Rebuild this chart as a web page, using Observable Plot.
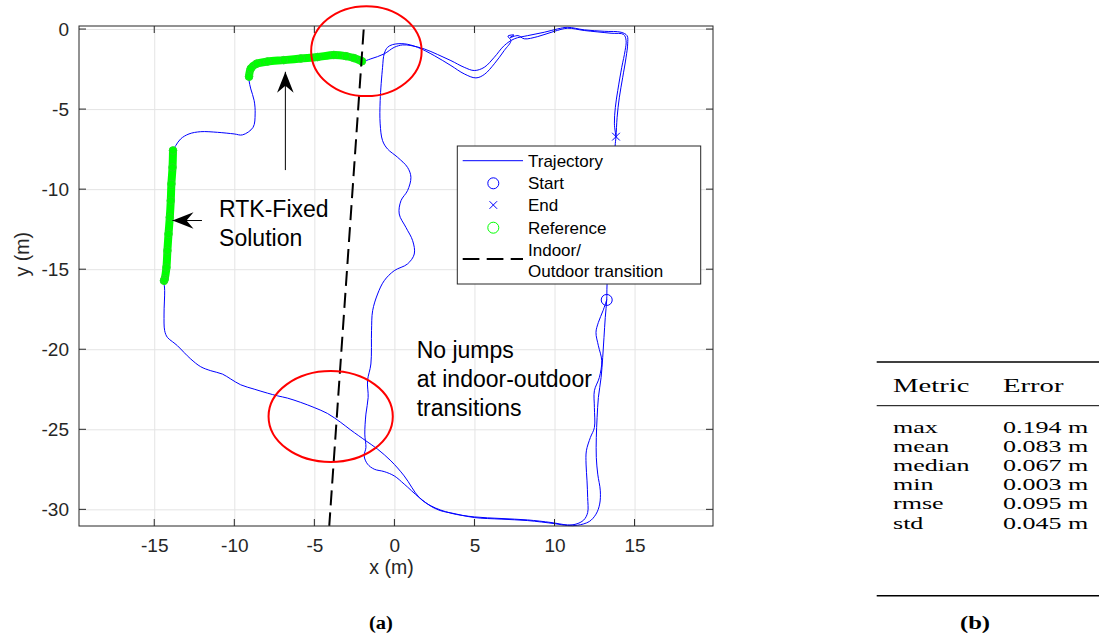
<!DOCTYPE html>
<html><head><meta charset="utf-8">
<script src="https://cdn.jsdelivr.net/npm/d3@7"></script>
<script src="https://cdn.jsdelivr.net/npm/@observablehq/plot@0.6"></script>
<style>
html,body{margin:0;padding:0;background:#fff;}
#wrap{position:relative;width:1099px;height:637px;overflow:hidden;background:#fff;}
#chart{position:absolute;left:0;top:0;width:760px;}
#over{position:absolute;left:0;top:0;}
</style></head><body>
<div id="wrap"><div id="chart"></div><svg id="over" width="1099" height="637"></svg></div>
<script>
// ---------- axes ----------
const xTicks = [-15, -10, -5, 0, 5, 10, 15];
const yTicks = [0, -5, -10, -15, -20, -25, -30];
const xDomain = [-19.7, 19.9];
const yDomain = [-31.04, 0.19];

// ---------- trajectory (x, y in m) ----------
const trajX = [
  13.23, 13.0, 12.71, 12.56, 12.71, 12.92, 12.77, 12.46, 12.46, 12.46, 12.21, 11.96, 11.94, 12.0, 12.04, 12.04, 11.79, 11.31,
  10.79, 9.75, 8.29, 6.63, 4.96, 3.5, 2.25, 1.52,
  0.58, -0.25, -1.08, -1.81, -2.75, -3.38, -4.21, -5.04, -5.88, -6.71, -7.33, -7.96, -8.79, -9.63, -10.25, -10.77, -11.5, -12.13, -12.75, -13.17, -13.58, -13.89, -14.21, -14.38, -14.42, -14.38, -14.42,
  -14.31, -14.19, -14.06, -13.94, -13.86,
  -13.69, -13.38, -12.86, -12.13, -11.08, -10.04, -9.52, -8.86, -8.73, -8.79, -9.0, -9.11, -9.11,
  -9.0, -8.63, -7.96, -6.94, -5.88, -4.83, -3.81, -3.06, -2.56, -2.06,
  -1.5, -0.67, -0.04, 0.48, 1.0, 1.83, 2.67, 3.5, 4.33, 4.96, 5.58, 6.21, 6.83, 7.46, 8.29, 9.33, 10.17, 10.79, 11.83, 13.08, 14.13, 14.5, 14.54, 14.44, 14.23, 14.02, 13.88, 13.81, 13.75, 13.5, 13.25, 13.23,
  13.14, 13.06, 12.98, 12.88, 12.71, 12.63, 12.58, 12.58, 12.67, 12.83, 12.79, 12.56, 12.14, 11.42,
  10.79, 9.96, 8.29, 6.63, 4.96, 3.5, 2.88, 2.31, 1.52,
  0.58, -0.04, -0.67, -1.29, -1.71, -1.92, -1.81, -1.88, -1.81, -1.67, -1.71, -1.5, -1.46, -1.39, -1.08, -0.67, -0.04, 0.79, 1.21, 1.11, 0.69, 0.27, 0.38, 0.79, 1.0, 0.79, 0.17, -0.46, -0.77, -0.92, -0.92, -0.77, -0.67, -0.46, -0.14, 0.58, 1.42, 2.46, 3.5, 4.33, 5.06, 5.58, 6.21, 6.83, 7.25, 7.06, 7.44, 7.19, 7.69, 8.08, 8.92, 9.96, 10.79, 11.83, 13.5, 14.29, 14.44, 14.38, 14.17, 13.92, 13.77, 13.71, 13.81
];
const trajY = [
  -16.89, -17.56, -18.29, -18.92, -19.75, -20.69, -21.73, -22.56, -23.61, -24.86, -25.48, -26.31, -27.14, -28.19, -29.23, -30.17, -30.64, -30.89,
  -30.94, -30.79, -30.63, -30.54, -30.44, -30.21, -29.75, -29.23,
  -27.88, -26.94, -26.21, -25.69, -25.02, -24.54, -23.98, -23.61, -23.29, -23.02, -22.88, -22.71, -22.46, -22.19, -21.83, -21.52, -21.31, -21.06, -20.58, -20.17, -19.75, -19.5, -19.23, -18.81, -17.77, -16.31, -15.69,
  -13.81, -11.94, -10.06, -8.5, -7.56,
  -7.25, -6.83, -6.52, -6.38, -6.42, -6.52, -6.58, -6.11, -5.27, -4.44, -3.71, -3.19, -2.94,
  -2.44, -2.13, -2.0, -1.91, -1.81, -1.72, -1.59, -1.66, -1.78, -1.98,
  -1.83, -1.52, -1.11, -0.96, -1.0, -1.21, -1.56, -1.94, -2.36, -2.56, -2.36, -1.73, -1.0, -0.58, -0.38, -0.17, 0.04, 0.14, -0.02, -0.11, -0.17, -0.38, -0.89, -1.73, -2.98, -4.23, -5.48, -6.69, -7.31, -11.63, -15.94, -16.89,
  -17.98, -19.23, -20.48, -21.73, -22.98, -24.23, -25.48, -26.73, -27.77, -28.81, -29.64, -30.27, -30.73, -30.96,
  -30.98, -30.86, -30.67, -30.58, -30.48, -30.19, -30.06, -29.81, -29.23,
  -28.39, -27.88, -27.61, -27.46, -27.14, -26.63, -26.11, -25.27, -24.02, -22.98, -21.94, -20.89, -18.81, -17.56, -16.52, -15.69, -15.06, -14.64, -14.02, -13.19, -12.36, -11.52, -10.69, -10.06, -9.23, -8.61, -7.98, -7.46, -6.94, -5.89, -4.44, -2.36, -1.52, -1.11, -0.94, -0.89, -1.11, -1.63, -2.25, -2.77, -3.02, -2.81, -2.14, -1.31, -0.69, -0.41, -0.34, -0.5, -0.38, -0.58, -0.44, -0.11, 0.08, -0.06, -0.23, -0.31, -0.69, -1.31, -2.36, -3.81, -4.86, -5.89, -6.69
];
const startX = [13.23], startY = [-16.89];
const endX = [13.81], endY = [-6.69];

// ---------- RTK-fixed reference ----------
const refWestX = [-13.86, -13.89, -13.96, -14.0, -14.06, -14.14, -14.21, -14.27, -14.38, -14.42];
const refWestY = [-7.56, -8.61, -9.64, -10.69, -11.73, -12.77, -13.81, -14.86, -15.58, -15.69];
const refTopX = [-9.11, -9.0, -8.63, -7.96, -6.94, -5.88, -4.83, -3.81, -3.06, -2.56, -2.06];
const refTopY = [-2.94, -2.44, -2.13, -2.0, -1.91, -1.81, -1.72, -1.59, -1.66, -1.78, -1.98];

// ---------- indoor / outdoor transition line ----------
const transX1 = [-1.95], transY1 = [0], transX2 = [-4.1], transY2 = [-31.0];

// ---------- annotations ----------
const ellCx = [-1.75, -3.98], ellCy = [-1.38, -24.2], ellRx = [3.45, 3.88], ellRy = [2.81, 2.84];
const arrowX1 = [-6.81, -12.02], arrowY1 = [-8.81, -11.96], arrowX2 = [-6.81, -13.86], arrowY2 = [-2.67, -11.96];
const noteText = ["RTK-Fixed\nSolution", "No jumps\nat indoor-outdoor\ntransitions"];
const noteX = [-10.98, 1.36], noteY = [-10.42, -19.23];
const legendLabels = ["Trajectory", "Start", "End", "Reference", "Indoor/\nOutdoor transition"];

// ---------- table ----------
const tableHeader = ["Metric", "Error"];
const metrics = ["max", "mean", "median", "min", "rmse", "std"];
const errors = [0.194, 0.083, 0.067, 0.003, 0.095, 0.045];

const BLUE = "#0000ff", GREEN = "#00ff00", AX = "#262626";
const n = Math.min(trajX.length, trajY.length);

function boxTicks(index, scales, values, dims) {
  const {width, height, marginTop, marginRight, marginBottom, marginLeft} = dims;
  const x0 = marginLeft, x1 = width - marginRight, y0 = marginTop, y1 = height - marginBottom;
  const g = d3.create("svg:g").attr("stroke", AX).attr("stroke-width", 1).attr("fill", "none");
  g.append("rect").attr("x", x0).attr("y", y0).attr("width", x1 - x0).attr("height", y1 - y0);
  const tl = 7;
  for (const t of xTicks) { const p = scales.x(t); g.append("path").attr("d", `M${p},${y1}v${-tl}M${p},${y0}v${tl}`); }
  for (const t of yTicks) { const p = scales.y(t); g.append("path").attr("d", `M${x0},${p}h${tl}M${x1},${p}h${-tl}`); }
  return g.node();
}
function ellipses(index, scales) {
  const g = d3.create("svg:g").attr("fill", "none").attr("stroke", "#ff0000").attr("stroke-width", 2);
  ellCx.forEach((cx, i) => {
    const px = scales.x(cx), py = scales.y(ellCy[i]);
    g.append("ellipse").attr("cx", px).attr("cy", py)
      .attr("rx", Math.abs(scales.x(cx + ellRx[i]) - px))
      .attr("ry", Math.abs(scales.y(ellCy[i] + ellRy[i]) - py));
  });
  return g.node();
}
function arrows(index, scales) {
  const g = d3.create("svg:g");
  arrowX1.forEach((ax, i) => {
    const x1 = scales.x(ax), y1 = scales.y(arrowY1[i]), x2 = scales.x(arrowX2[i]), y2 = scales.y(arrowY2[i]);
    const ang = Math.atan2(y2 - y1, x2 - x1) * 180 / Math.PI;
    g.append("line").attr("x1", x1).attr("y1", y1).attr("x2", x2).attr("y2", y2)
      .attr("stroke", "#000").attr("stroke-width", 1);
    g.append("path").attr("d", "M0,0L-21,8.3L-14,0L-21,-8.3Z").attr("fill", "#000")
      .attr("transform", `translate(${x2},${y2}) rotate(${ang})`);
  });
  return g.node();
}
function legend() {
  const g = d3.create("svg:g").attr("text-anchor", "start");
  const bx = 457.3, by = 146, bw = 243.4, bh = 138, sx0 = 462.7, sx1 = 523, sc = 493.3, tx = 528;
  g.append("rect").attr("x", bx).attr("y", by).attr("width", bw).attr("height", bh)
    .attr("fill", "#fff").attr("stroke", AX).attr("stroke-width", 1);
  const symY = [160.7, 183.3, 205, 227.7, 259];
  const baseY = [[167], [189], [211], [234], [255.5, 276.5]];
  g.append("line").attr("x1", sx0).attr("x2", sx1).attr("y1", symY[0]).attr("y2", symY[0]).attr("stroke", BLUE).attr("stroke-width", 1);
  g.append("circle").attr("cx", sc).attr("cy", symY[1]).attr("r", 5.5).attr("fill", "none").attr("stroke", BLUE).attr("stroke-width", 1);
  g.append("path").attr("d", `M${sc-3.8},${symY[2]-3.8}L${sc+3.8},${symY[2]+3.8}M${sc-3.8},${symY[2]+3.8}L${sc+3.8},${symY[2]-3.8}`).attr("stroke", BLUE).attr("stroke-width", 1);
  g.append("circle").attr("cx", sc).attr("cy", symY[3]).attr("r", 5.5).attr("fill", "none").attr("stroke", GREEN).attr("stroke-width", 1);
  g.append("line").attr("x1", sx0).attr("x2", sx1).attr("y1", symY[4]).attr("y2", symY[4]).attr("stroke", "#000").attr("stroke-width", 2).attr("stroke-dasharray", "16.7,7.3");
  legendLabels.forEach((lab, i) => {
    lab.split("\n").forEach((line, j) => {
      g.append("text").attr("x", tx).attr("y", baseY[i][j]).attr("text-anchor", "start")
        .attr("font-size", 17).attr("fill", "#000").text(line);
    });
  });
  return g.node();
}

const chart = Plot.plot({
  width: 760, height: 637,
  marginLeft: 79, marginRight: 47, marginTop: 26, marginBottom: 111,
  x: {domain: xDomain, axis: null},
  y: {domain: yDomain, axis: null},
  style: {fontFamily: "'Liberation Sans', Arial, Helvetica, sans-serif", background: "transparent"},
  marks: [
    Plot.ruleX(xTicks, {x: d => d, stroke: "#e4e4e4", strokeWidth: 1}),
    Plot.ruleY(yTicks, {y: d => d, stroke: "#e4e4e4", strokeWidth: 1}),
    Plot.line({length: n}, {x: trajX.slice(0, n), y: trajY.slice(0, n), stroke: BLUE, strokeWidth: 1, curve: "catmull-rom"}),
    Plot.line({length: refWestX.length}, {x: refWestX, y: refWestY, stroke: GREEN, strokeWidth: 8, strokeLinecap: "round", curve: "catmull-rom"}),
    Plot.line({length: refTopX.length}, {x: refTopX, y: refTopY, stroke: GREEN, strokeWidth: 8, strokeLinecap: "round", curve: "catmull-rom"}),
    Plot.dot({length: refWestX.length}, {x: refWestX, y: refWestY, r: 3.8, stroke: "#22e022", strokeWidth: 1, fill: "none"}),
    Plot.dot({length: refTopX.length}, {x: refTopX, y: refTopY, r: 3.8, stroke: "#22e022", strokeWidth: 1, fill: "none"}),
    Plot.dot({length: 1}, {x: startX, y: startY, r: 5.5, stroke: BLUE, strokeWidth: 1, fill: "none"}),
    Plot.dot({length: 1}, {x: endX, y: endY, r: 3.6, symbol: "times", stroke: BLUE, strokeWidth: 1}),
    Plot.link({length: 1}, {x1: transX1, y1: transY1, x2: transX2, y2: transY2, stroke: "#000", strokeWidth: 2, strokeDasharray: "15,7"}),
    boxTicks,
    Plot.text(xTicks, {x: d => d, frameAnchor: "bottom", lineAnchor: "top", dy: 12, text: d => String(d), fontSize: 19, fill: AX}),
    Plot.text(yTicks, {y: d => d, frameAnchor: "left", textAnchor: "end", dx: -10.5, text: d => String(d), fontSize: 19, fill: AX}),
    Plot.text(["x (m)"], {frameAnchor: "bottom", dy: 47, dx: -5, text: d => d, fontSize: 19.5, fill: AX}),
    Plot.text(["y (m)"], {frameAnchor: "left", dx: -57, rotate: -90, text: d => d, fontSize: 19.5, fill: AX}),
    ellipses,
    arrows,
    Plot.text({length: noteText.length}, {x: noteX, y: noteY, text: noteText, textAnchor: "start", lineAnchor: "top", lineHeight: 1.26, fontSize: 23, fill: "#000"}),
    legend
  ]
});
document.getElementById("chart").appendChild(chart);

// ---------- table (b) and captions ----------
const over = d3.select("#over");
const T = {left: 876.7, right: 1099, top: 362, mid: 405.7, bottom: 595.7, colX: [893, 1003], head: 391.7, row0: 433, step: 19.1, sx: 1.55, fs: 16.8};
over.append("line").attr("x1", T.left).attr("x2", T.right).attr("y1", T.top).attr("y2", T.top).attr("stroke", "#000").attr("stroke-width", 1.6);
over.append("line").attr("x1", T.left).attr("x2", T.right).attr("y1", T.mid).attr("y2", T.mid).attr("stroke", "#000").attr("stroke-width", 1);
over.append("line").attr("x1", T.left).attr("x2", T.right).attr("y1", T.bottom).attr("y2", T.bottom).attr("stroke", "#000").attr("stroke-width", 1.6);
const serif = "'Liberation Serif', 'Times New Roman', Times, serif";
function cell(x, y, s, sx, opts = {}) {
  over.append("text").attr("transform", `translate(${x},${y}) scale(${sx},1)`)
    .attr("font-family", serif).attr("font-size", opts.fs || T.fs)
    .attr("font-weight", opts.bold ? "bold" : "normal")
    .attr("text-anchor", opts.anchor || "start").attr("fill", "#000").text(s);
}
tableHeader.forEach((h, j) => cell(T.colX[j], T.head, h, T.sx, {fs: 18.5}));
metrics.forEach((m, i) => {
  cell(T.colX[0], T.row0 + i * T.step, m, T.sx);
  cell(T.colX[1], T.row0 + i * T.step, d3.format(".3f")(errors[i]) + " m", T.sx);
});
cell(381, 629, "(a)", 1.08, {bold: true, fs: 19, anchor: "middle"});
cell(975, 629, "(b)", 1.3, {bold: true, fs: 19, anchor: "middle"});
</script></body></html>
